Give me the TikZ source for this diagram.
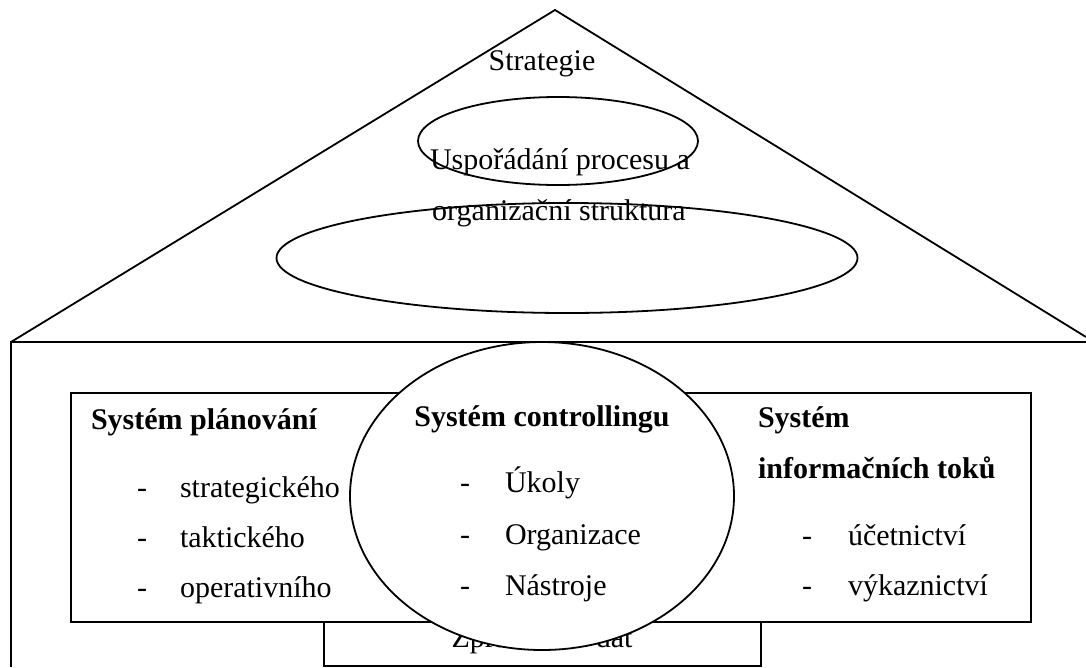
\documentclass[tikz,border=0pt]{standalone}
\usepackage{fontspec}
\setmainfont{Liberation Serif}
\usetikzlibrary{shapes.geometric}
\begin{document}
\begin{tikzpicture}[x=1pt,y=-1pt,
  every node/.style={inner sep=0pt, outer sep=0pt, font=\fontsize{30}{36}\selectfont},
  ln/.style={line width=1.8pt, black},
  txt/.style={anchor=base west},
  ctxt/.style={anchor=base},
  btxt/.style={anchor=base west, font=\fontsize{30}{36}\selectfont\bfseries}]
\useasboundingbox (0,0) rectangle (1086,667);
% roof
\coordinate (apex) at (555,10);
\coordinate (roofL) at (11,342);
\coordinate (roofR) at (1086,337);
\coordinate (baseR) at (1086,342);
\coordinate (wallB) at (11,667);
\draw[ln] (roofL) -- (apex) -- (roofR);
\draw[ln] (wallB) -- (roofL) -- (baseR);
% ellipses in roof
\node[ln, draw, ellipse, minimum width=280, minimum height=88] (small) at (558,141) {};
\node[ln, draw, ellipse, minimum width=581, minimum height=110] (big) at (567,258) {};
\node[ctxt] (strat) at (542,70) {Strategie};
\node[ctxt] (usp) at (560,169) {Uspořádání procesu a};
\node[ctxt] (org) at (559,220) {organizační struktura};
% boxes
\node[ln, draw, rectangle, minimum width=960, minimum height=229, anchor=north west] (sysbox) at (71,393) {};
\node[ln, draw, rectangle, minimum width=437, minimum height=44, anchor=north west] (zpr) at (324,622) {};
\node[ctxt] (zprt) at (542,647) {Zpracování dat};
% left column
\node[btxt] (plan) at (91,429) {Systém plánování};
\node[txt] (d1) at (137,497) {-};
\node[txt] (p1) at (180,497) {strategického};
\node[txt] (d2) at (137,547) {-};
\node[txt] (p2) at (180,547) {taktického};
\node[txt] (d3) at (137,597) {-};
\node[txt] (p3) at (180,597) {operativního};
% central circle
\node[ln, draw, fill=white, ellipse, minimum width=384, minimum height=308] (ctrl) at (542,496) {};
\node[btxt, anchor=base] (ctrlt) at (542,426) {Systém controllingu};
\node[txt] (c1d) at (460,492) {-};
\node[txt] (c1) at (505,492) {Úkoly};
\node[txt] (c2d) at (460,544) {-};
\node[txt] (c2) at (505,544) {Organizace};
\node[txt] (c3d) at (460,595) {-};
\node[txt] (c3) at (505,595) {Nástroje};
% right column
\node[btxt] (inf1) at (758,427) {Systém};
\node[btxt] (inf2) at (758,478) {informačních toků};
\node[txt] (r1d) at (802,545) {-};
\node[txt] (r1) at (848,545) {účetnictví};
\node[txt] (r2d) at (802,595) {-};
\node[txt] (r2) at (848,595) {výkaznictví};
\end{tikzpicture}
\end{document}
